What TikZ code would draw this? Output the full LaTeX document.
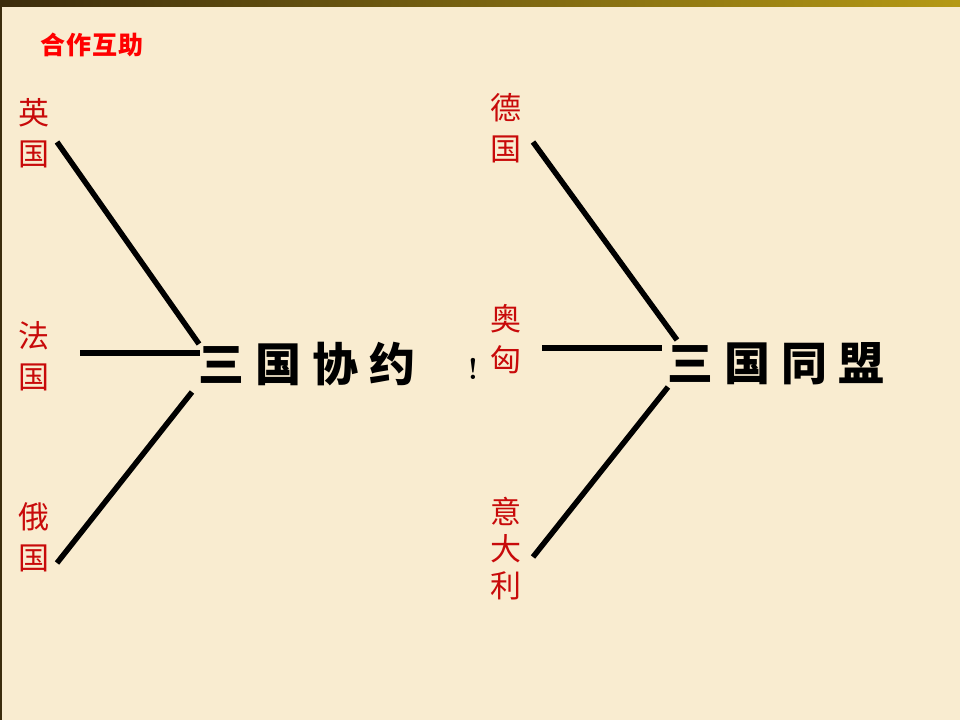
\documentclass[tikz,border=0pt]{standalone}
\usepackage{fontspec}
\newfontfamily\cjk{Noto Sans CJK SC}
\usetikzlibrary{positioning}
\definecolor{paper}{RGB}{249,236,208}
\definecolor{inkred}{RGB}{200,10,10}
\definecolor{rim}{RGB}{150,110,30}

\begin{document}
\begin{tikzpicture}[x=1pt, y=-1pt,
  country/.style={text=inkred, font=\cjk\fontsize{31}{41}\selectfont, align=center, inner sep=0pt},
  pact/.style={font=\cjk\bfseries\fontsize{46}{50}\selectfont, inner sep=0pt},
  link/.style={line width=5.5pt}]

  \newcommand\pgap{\hspace{11pt}}

  % paper and rim
  \fill[paper] (0,0) rectangle (960,720);
  \shade[left color=rim!40!black, middle color=rim, right color=rim!70!yellow] (0,0) rectangle (960,6);
  \fill[rim!40!black] (0,6) rectangle (1.5,720);

  \node[text=red, font=\cjk\bfseries\fontsize{25}{28}\selectfont, inner sep=0pt] (task) at (92,45) {合\hspace{1pt}作\hspace{1pt}互\hspace{1pt}助};

  % entente
  \node[pact] (entente) at (307,364) {三\pgap 国\pgap 协\pgap 约};
  \node[country] (uk) at (34,133) {英\\国};
  \node[country] (fr) at (34,356) {法\\国};
  \node[country] (ru) at (34,537) {俄\\国};

  \coordinate (ukend) at (57,142);   \coordinate (ukhub) at (199,344);
  \coordinate (frend) at (80,353);   \coordinate (frhub) at (200,353);
  \coordinate (ruend) at (57,563);   \coordinate (ruhub) at (192,392);

  \draw[link] (ukend) -- (ukhub); %% uk->entente
  \draw[link] (frend) -- (frhub); %% fr->entente
  \draw[link] (ruhub) -- (ruend); %% ru->entente

  \node[font=\bfseries\fontsize{30}{32}\selectfont, inner sep=0pt] (mark) at (473,369) {!};

  % alliance
  \node[pact] (alliance) at (776,364) {三\pgap 国\pgap 同\pgap 盟};
  \node[country] (de) at (506,128) {德\\国};
  \node[country] (at) at (506,339) {奥\\匈};
  \node[country, font=\cjk\fontsize{31}{37}\selectfont] (it) at (506,549) {意\\大\\利};

  \coordinate (deend) at (533,142);  \coordinate (dehub) at (677,340);
  \coordinate (atend) at (542,348);  \coordinate (athub) at (662,348);
  \coordinate (itend) at (533,557);  \coordinate (ithub) at (668,387);

  \draw[link] (deend) -- (dehub); %% de->alliance
  \draw[link] (atend) -- (athub); %% at->alliance
  \draw[link] (ithub) -- (itend); %% it->alliance
\end{tikzpicture}
\end{document}
